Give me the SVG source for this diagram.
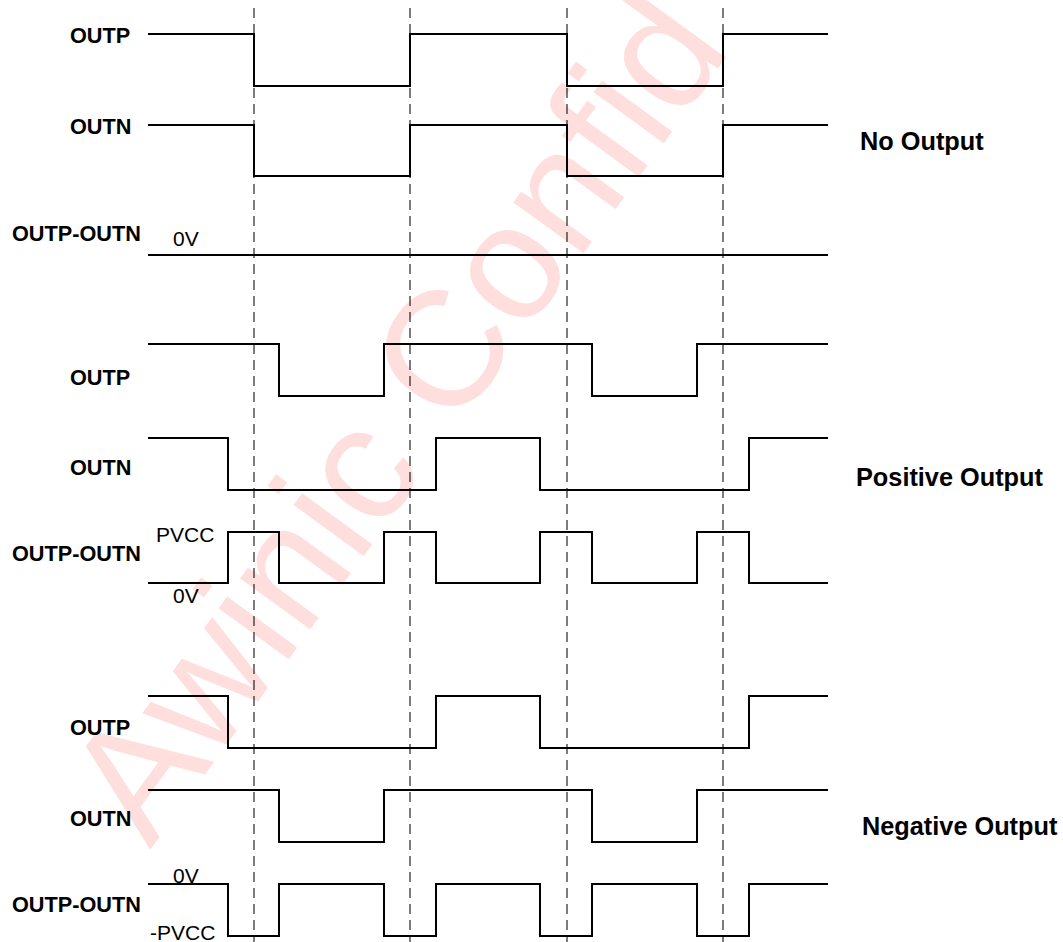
<svg xmlns="http://www.w3.org/2000/svg" width="1063" height="942" viewBox="0 0 1063 942">
<style>
.sig{fill:none;stroke:#000;stroke-width:2;stroke-linejoin:miter}
.dash{fill:none;stroke:#111;stroke-width:1.1;stroke-dasharray:10 6}
.lbl{font-family:"Liberation Sans",Arial,sans-serif;font-weight:bold;font-size:21.7px;fill:#000}
.big{font-family:"Liberation Sans",Arial,sans-serif;font-weight:bold;font-size:25.3px;fill:#000}
.val{font-family:"Liberation Sans",Arial,sans-serif;font-size:21px;fill:#000}
.wm{font-family:"Liberation Sans",Arial,sans-serif;font-size:164px;fill:#ffdede}
</style>
<rect width="1063" height="942" fill="#fff"/>
<g id="watermark">
<text class="wm" transform="translate(150,850) rotate(-54)">Awinic Confid</text>
</g>
<g id="guides">
<line class="dash" x1="254" y1="8" x2="254" y2="942"/>
<line class="dash" x1="410" y1="8" x2="410" y2="942"/>
<line class="dash" x1="567" y1="8" x2="567" y2="942"/>
<line class="dash" x1="723" y1="8" x2="723" y2="942"/>
</g>
<g id="no-output">
<path class="sig" d="M148,34 H254 V86 H410 V34 H567 V86 H723 V34 H828"/>
<path class="sig" d="M148,125 H254 V176 H410 V125 H567 V176 H723 V125 H828"/>
<path class="sig" d="M148,255 H828"/>
<text class="lbl" x="70" y="43">OUTP</text>
<text class="lbl" x="70" y="134">OUTN</text>
<text class="lbl" x="12" y="241">OUTP-OUTN</text>
<text class="val" x="173" y="246">0V</text>
<text class="big" x="860" y="150">No Output</text>
</g>
<g id="positive-output">
<path class="sig" d="M148,344 H279 V396 H384 V344 H592 V396 H697 V344 H828"/>
<path class="sig" d="M148,438 H228 V490 H436 V438 H540 V490 H749 V438 H828"/>
<path class="sig" d="M148,583 H228 V532 H279 V583 H384 V532 H436 V583 H540 V532 H592 V583 H697 V532 H749 V583 H828"/>
<text class="lbl" x="70" y="385">OUTP</text>
<text class="lbl" x="70" y="475">OUTN</text>
<text class="lbl" x="12" y="561">OUTP-OUTN</text>
<text class="val" x="156" y="542">PVCC</text>
<text class="val" x="173" y="603">0V</text>
<text class="big" x="856" y="486">Positive Output</text>
</g>
<g id="negative-output">
<path class="sig" d="M148,696 H228 V748 H436 V696 H540 V748 H749 V696 H828"/>
<path class="sig" d="M148,790 H279 V842 H384 V790 H592 V842 H697 V790 H828"/>
<path class="sig" d="M148,884 H228 V936 H279 V884 H384 V936 H436 V884 H540 V936 H592 V884 H697 V936 H749 V884 H828"/>
<text class="lbl" x="70" y="735">OUTP</text>
<text class="lbl" x="70" y="826">OUTN</text>
<text class="lbl" x="12" y="912">OUTP-OUTN</text>
<text class="val" x="173" y="883">0V</text>
<text class="val" x="150" y="940">-PVCC</text>
<text class="big" x="862" y="835">Negative Output</text>
</g>
</svg>
